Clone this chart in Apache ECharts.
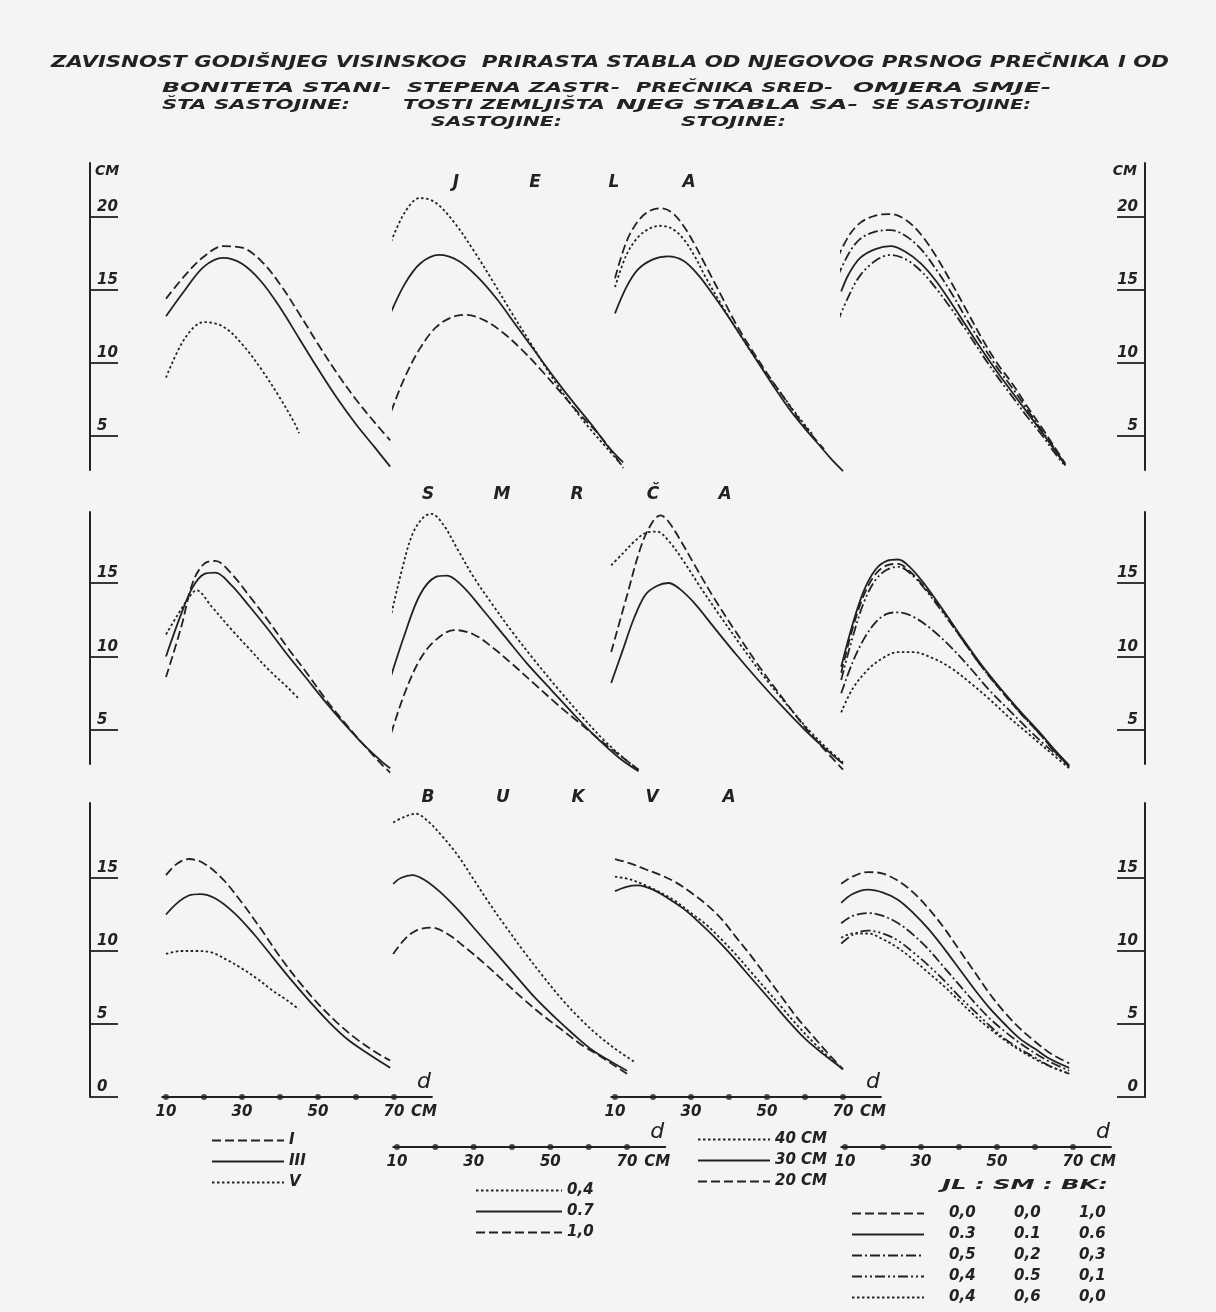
<!DOCTYPE html>
<html>
<head>
<meta charset="utf-8">
<script src="https://cdn.jsdelivr.net/npm/echarts@6/dist/echarts.min.js"></script>
<style>
  html, body { margin: 0; padding: 0; background: #f4f4f2; }
  #chart { width: 1216px; height: 1312px; }
</style>
</head>
<body>
<div id="chart"></div>
<script>
// ---- values: [d (cm), yearly height increment (cm)] ----
const dTicks = [10, 20, 30, 40, 50, 60, 70];
const dLabels = [10, 30, 50, 70];
const jelaTicks = [5, 10, 15, 20];
const smrcaTicks = [5, 10, 15];
const bukvaTicks = [0, 5, 10, 15];

// JELA
const jelaI = [[10,14.4],[15,16.0],[20,17.3],[25,18.0],[30,17.9],[35,17.0],[40,15.4],[45,13.4],[50,11.3],[55,9.3],[60,7.5],[65,5.9],[69,4.7]];
const jelaIII = [[10,13.2],[15,15.0],[20,16.6],[25,17.2],[30,16.8],[35,15.6],[40,13.8],[45,11.7],[50,9.6],[55,7.6],[60,5.8],[65,4.2],[69,2.9]];
const jelaV = [[10,9.0],[15,11.7],[20,12.8],[25,12.5],[30,11.3],[35,9.6],[40,7.6],[44,5.8],[45,5.2]];
const jelaZ04 = [[8,18.0],[12,20.3],[16,21.3],[20,21.0],[25,19.6],[30,17.7],[35,15.6],[40,13.4],[45,11.3],[50,9.2],[55,7.3],[60,5.6],[65,4.1],[69,2.9]];
const jelaZ07 = [[8,13.2],[12,15.4],[16,16.8],[21,17.4],[26,17.0],[31,15.9],[36,14.4],[41,12.6],[46,10.8],[51,9.0],[56,7.3],[61,5.7],[65,4.3],[69,3.2]];
const jelaZ10 = [[8.5,6.7],[12,9.0],[16,11.0],[20,12.4],[24,13.1],[28,13.3],[33,12.9],[38,12.0],[43,10.8],[48,9.4],[53,7.9],[58,6.4],[63,5.0],[67,3.6],[69,2.8]];
const jelaP40 = [[10,15.2],[13,17.4],[16,18.6],[19,19.2],[22,19.4],[25,19.2],[28,18.5],[31,17.3],[34,15.8],[38,14.0],[42,12.3],[46,10.7],[50,9.2],[54,7.8],[58,6.4],[62,5.1]];
const jelaP30 = [[10,13.4],[13,15.2],[16,16.4],[20,17.1],[24,17.3],[28,17.0],[32,16.0],[36,14.6],[40,13.1],[44,11.5],[48,9.9],[52,8.3],[56,6.8],[60,5.5],[64,4.3],[67,3.4],[70,2.6]];
const jelaP20 = [[10,15.8],[13,18.3],[16,19.7],[19,20.4],[22,20.6],[25,20.3],[28,19.4],[31,18.1],[34,16.6],[38,14.6],[42,12.6],[46,10.9],[50,9.3],[54,7.8],[58,6.3],[62,5.0],[65,4.1]];
const jelaO1 = [[8,17.2],[11,18.7],[14,19.6],[18,20.1],[22,20.2],[26,19.8],[30,18.8],[34,17.3],[38,15.5],[42,13.6],[46,11.7],[50,10.0],[54,8.6],[58,7.0],[62,5.5],[65,4.3],[68,3.1]];
const jelaO2 = [[9,14.9],[11,16.1],[14,17.2],[18,17.8],[22,18.0],[26,17.6],[30,16.8],[34,15.6],[38,14.1],[42,12.5],[46,10.9],[50,9.4],[54,8.0],[58,6.6],[62,5.2],[65,4.1],[68,3.0]];
const jelaO3 = [[8,15.9],[11,17.5],[14,18.5],[18,19.0],[22,19.1],[26,18.7],[30,17.8],[34,16.4],[38,14.8],[42,13.0],[46,11.3],[50,9.7],[54,8.3],[58,6.8],[62,5.3],[65,4.2],[68,3.0]];
const jelaO4 = [[8,12.8],[11,14.6],[14,16.0],[18,17.0],[22,17.4],[26,17.1],[30,16.3],[34,15.1],[38,13.7],[42,12.2],[46,10.6],[50,9.1],[54,7.7],[58,6.3],[62,5.0],[65,3.9],[68,2.9]];

// SMRČA
const smrcaI = [[10,8.6],[14,12.0],[17,15.0],[20,16.3],[23,16.5],[27,15.7],[32,14.1],[37,12.4],[42,10.6],[47,8.9],[52,7.1],[57,5.5],[62,4.0],[67,2.6],[69,2.1]];
const smrcaIII = [[10,10.0],[14,12.9],[17,14.7],[20,15.6],[23,15.7],[27,14.9],[32,13.4],[37,11.8],[42,10.1],[47,8.5],[52,6.9],[57,5.4],[62,4.0],[67,2.8],[69,2.4]];
const smrcaV = [[10,11.5],[13,12.8],[16,14.0],[18,14.5],[22,13.4],[27,11.9],[32,10.5],[37,9.1],[42,7.9],[45,7.1]];
const smrcaZ04 = [[8,12.3],[11,15.6],[14,18.3],[17,19.5],[19,19.7],[22,19.0],[26,17.2],[30,15.4],[35,13.5],[40,11.7],[46,9.7],[52,7.8],[58,6.0],[64,4.3],[70,2.9],[73,2.3]];
const smrcaZ07 = [[8,8.3],[12,11.5],[16,14.2],[20,15.4],[23,15.5],[27,14.8],[32,13.3],[38,11.4],[44,9.5],[50,7.8],[56,6.1],[62,4.5],[68,3.1],[73,2.2]];
const smrcaZ10 = [[8.5,4.8],[12,7.5],[16,9.8],[20,11.1],[25,11.8],[30,11.5],[35,10.6],[40,9.5],[46,8.1],[52,6.7],[58,5.4],[64,4.1],[70,2.9],[73,2.3]];
const smrcaP40 = [[9,16.2],[12,17.0],[15,17.8],[18,18.4],[21,18.5],[24,17.9],[28,16.5],[32,14.9],[37,13.0],[43,10.8],[49,8.7],[55,6.8],[61,5.0],[66,3.7],[70,2.8]];
const smrcaP30 = [[9,8.2],[12,10.4],[15,12.6],[18,14.2],[21,14.8],[24,15.0],[27,14.6],[31,13.6],[36,12.0],[42,10.1],[48,8.3],[54,6.6],[60,5.0],[65,3.8],[70,2.7]];
const smrcaP20 = [[9,10.3],[13,14.0],[17,17.6],[20,19.2],[22,19.6],[24,19.2],[27,18.0],[31,16.2],[36,14.0],[42,11.6],[48,9.3],[54,7.2],[60,5.2],[65,3.7],[70,2.3]];
const smrcaO1 = [[9,8.9],[12,11.9],[15,14.2],[18,15.6],[21,16.2],[24,16.3],[27,15.8],[31,14.7],[36,13.0],[41,11.1],[46,9.3],[51,7.7],[56,6.2],[61,4.8],[65,3.6],[69,2.5]];
const smrcaO2 = [[9,9.3],[12,12.2],[15,14.5],[18,15.9],[21,16.5],[24,16.6],[27,16.1],[31,14.9],[36,13.1],[41,11.2],[46,9.4],[51,7.8],[56,6.3],[61,4.9],[65,3.7],[69,2.6]];
const smrcaO3 = [[9,7.5],[12,9.6],[15,11.2],[18,12.3],[21,12.9],[24,13.0],[28,12.7],[33,11.8],[38,10.6],[43,9.2],[48,7.7],[53,6.4],[58,5.1],[63,3.9],[69,2.6]];
const smrcaO4 = [[9,8.4],[12,11.3],[15,13.7],[18,15.2],[21,15.9],[24,16.1],[27,15.7],[31,14.6],[36,12.9],[41,11.1],[46,9.3],[51,7.7],[56,6.2],[61,4.8],[65,3.6],[69,2.5]];
const smrcaO5 = [[9,6.2],[12,7.8],[16,9.1],[20,9.9],[24,10.3],[28,10.3],[33,9.9],[38,9.2],[43,8.2],[48,7.1],[53,5.9],[58,4.8],[63,3.7],[69,2.4]];

// BUKVA
const bukvaI = [[10,15.2],[13,16.0],[16,16.3],[20,16.0],[25,14.9],[30,13.3],[35,11.5],[40,9.6],[45,7.9],[50,6.4],[55,5.1],[60,4.0],[65,3.1],[69,2.5]];
const bukvaIII = [[10,12.5],[13,13.3],[16,13.8],[19,13.9],[23,13.6],[28,12.6],[33,11.2],[38,9.6],[43,8.0],[48,6.5],[53,5.1],[58,3.9],[63,3.0],[69,2.0]];
const bukvaV = [[10,9.8],[14,10.0],[18,10.0],[22,9.9],[26,9.4],[30,8.8],[34,8.1],[38,7.3],[42,6.6],[45,6.0]];
const bukvaZ04 = [[9,18.8],[12,19.2],[15,19.4],[18,18.9],[22,17.8],[26,16.5],[30,14.9],[34,13.3],[38,11.8],[43,10.0],[48,8.3],[53,6.7],[58,5.3],[63,4.1],[68,3.1],[72,2.4]];
const bukvaZ07 = [[9,14.6],[11,15.0],[14,15.2],[17,14.9],[21,14.1],[26,12.8],[31,11.3],[36,9.8],[41,8.3],[46,6.8],[51,5.5],[56,4.3],[61,3.2],[66,2.4],[70,1.8]];
const bukvaZ10 = [[9,9.8],[12,10.8],[15,11.4],[19,11.6],[23,11.2],[28,10.2],[33,9.1],[38,7.9],[43,6.7],[48,5.6],[53,4.6],[58,3.6],[63,2.8],[67,2.1],[70,1.6]];
const bukvaP40 = [[10,15.1],[14,14.9],[18,14.5],[22,14.0],[26,13.4],[30,12.6],[34,11.8],[38,10.8],[42,9.7],[46,8.5],[50,7.3],[54,6.1],[58,4.9],[62,3.8],[66,2.8],[70,1.9]];
const bukvaP30 = [[10,14.1],[13,14.4],[16,14.5],[20,14.2],[24,13.6],[28,12.9],[32,12.0],[36,11.0],[40,9.9],[44,8.7],[48,7.5],[52,6.3],[56,5.1],[60,4.0],[65,2.9],[70,1.9]];
const bukvaP20 = [[10,16.3],[14,16.0],[18,15.6],[22,15.2],[26,14.7],[30,14.0],[34,13.2],[38,12.2],[42,10.9],[46,9.6],[50,8.2],[54,6.8],[58,5.4],[62,4.2],[66,3.0],[70,1.9]];
const bukvaO1 = [[9,14.6],[12,15.1],[16,15.4],[20,15.3],[24,14.8],[28,14.0],[32,12.9],[36,11.6],[40,10.1],[44,8.6],[48,7.1],[52,5.8],[56,4.7],[60,3.8],[64,3.0],[69,2.3]];
const bukvaO2 = [[9,13.3],[12,13.9],[16,14.2],[20,14.0],[24,13.5],[28,12.6],[32,11.5],[36,10.2],[40,8.8],[44,7.4],[48,6.1],[52,5.0],[56,4.0],[60,3.3],[64,2.6],[69,2.0]];
const bukvaO3 = [[9,11.9],[12,12.4],[16,12.6],[20,12.4],[24,11.9],[28,11.1],[32,10.1],[36,8.9],[40,7.7],[44,6.5],[48,5.4],[52,4.5],[56,3.7],[60,3.0],[64,2.4],[69,1.8]];
const bukvaO4 = [[9,10.5],[12,11.1],[16,11.4],[20,11.2],[24,10.7],[28,9.9],[32,9.0],[36,8.0],[40,6.9],[44,5.9],[48,4.9],[52,4.0],[56,3.3],[60,2.7],[64,2.1],[69,1.6]];
const bukvaO5 = [[9,10.9],[12,11.2],[16,11.2],[20,10.8],[24,10.2],[28,9.4],[32,8.5],[36,7.6],[40,6.6],[44,5.6],[48,4.7],[52,3.9],[56,3.2],[60,2.6],[64,2.1],[69,1.6]];

// legend names
const bonitetNames = ['I', 'III', 'V'];
const zastrtostNames = ['0,4', '0.7', '1,0'];
const precnikNames = ['40 CM', '30 CM', '20 CM'];
const omjerNames = ['0,0|0,0|1,0', '0.3|0.1|0.6', '0,5|0,2|0,3', '0,4|0.5|0,1', '0,4|0,6|0,0'];

// ---- layout ----
const INK = '#222222';
const FONT = '"DejaVu Sans", "Liberation Sans", sans-serif';
const AX_L = 90, AX_R = 1145;
const rows = [
  { top: 163, bottom: 470, zero: 509, ppu: 14.6, ticks: jelaTicks, name: 'CM' },
  { top: 512, bottom: 764, zero: 803.5, ppu: 14.7, ticks: smrcaTicks, name: '' },
  { top: 803, bottom: 1097, zero: 1097, ppu: 14.6, ticks: bukvaTicks, name: '' }
];
const panels = [
  { x10: 166, x70: 394, axisY: 1097 },
  { x10: 397, x70: 627, axisY: 1147 },
  { x10: 615, x70: 843, axisY: 1097 },
  { x10: 845, x70: 1073, axisY: 1147 }
];
const X_MIN = 9, X_MAX = 80;

const DASH = [9, 4], DOT = [2.5, 2.5], DASHDOT = [10, 3, 2, 3], DASHDOT2 = [10, 3, 2, 3, 2, 3];
const styleOf = {
  'I': DASH, 'III': 'solid', 'V': DOT,
  '0,4': DOT, '0.7': 'solid', '1,0': DASH,
  '40 CM': DOT, '30 CM': 'solid', '20 CM': DASH,
  '0,0|0,0|1,0': DASH, '0.3|0.1|0.6': 'solid', '0,5|0,2|0,3': DASHDOT,
  '0,4|0.5|0,1': DASHDOT2, '0,4|0,6|0,0': DOT
};

// curves per row, per panel
const curves = [
  [
    [['I', jelaI], ['III', jelaIII], ['V', jelaV]],
    [['0,4', jelaZ04], ['0.7', jelaZ07], ['1,0', jelaZ10]],
    [['40 CM', jelaP40], ['30 CM', jelaP30], ['20 CM', jelaP20]],
    [[omjerNames[0], jelaO1], [omjerNames[1], jelaO2], [omjerNames[2], jelaO3], [omjerNames[3], jelaO4]]
  ],
  [
    [['I', smrcaI], ['III', smrcaIII], ['V', smrcaV]],
    [['0,4', smrcaZ04], ['0.7', smrcaZ07], ['1,0', smrcaZ10]],
    [['40 CM', smrcaP40], ['30 CM', smrcaP30], ['20 CM', smrcaP20]],
    [[omjerNames[0], smrcaO1], [omjerNames[1], smrcaO2], [omjerNames[2], smrcaO3], [omjerNames[3], smrcaO4], [omjerNames[4], smrcaO5]]
  ],
  [
    [['I', bukvaI], ['III', bukvaIII], ['V', bukvaV]],
    [['0,4', bukvaZ04], ['0.7', bukvaZ07], ['1,0', bukvaZ10]],
    [['40 CM', bukvaP40], ['30 CM', bukvaP30], ['20 CM', bukvaP20]],
    [[omjerNames[0], bukvaO1], [omjerNames[1], bukvaO2], [omjerNames[2], bukvaO3], [omjerNames[3], bukvaO4], [omjerNames[4], bukvaO5]]
  ]
];

var myChart = echarts.init(document.getElementById('chart'));

var grid = [], xAxis = [], yAxis = [], series = [];

function panelBox(p) {
  var ppx = (p.x70 - p.x10) / 60;
  return { left: p.x10 - (10 - X_MIN) * ppx, width: (X_MAX - X_MIN) * ppx };
}
function rowRange(r) {
  return { min: (r.zero - r.bottom) / r.ppu, max: (r.zero - r.top) / r.ppu };
}

// curve panels: grids 0..11
rows.forEach(function (r, ri) {
  var rng = rowRange(r);
  panels.forEach(function (p, pi) {
    var box = panelBox(p);
    var gi = grid.length;
    grid.push({ left: box.left, width: box.width, top: r.top, height: r.bottom - r.top });
    xAxis.push({ type: 'value', gridIndex: gi, min: X_MIN, max: X_MAX, show: false });
    yAxis.push({ type: 'value', gridIndex: gi, min: rng.min, max: rng.max, show: false });
    curves[ri][pi].forEach(function (c) {
      series.push({
        type: 'line',
        name: c[0],
        xAxisIndex: gi,
        yAxisIndex: gi,
        data: c[1],
        smooth: 0.35,
        symbol: 'none',
        showSymbol: false,
        clip: false,
        silent: true,
        itemStyle: { color: INK },
        lineStyle: { color: INK, width: 1.8, type: styleOf[c[0]] }
      });
    });
  });
});

// row frames with left and right vertical axes: grids 12..14
var labelStyle = { color: INK, fontFamily: FONT, fontStyle: 'italic', fontWeight: 'bold', fontSize: 15 };
rows.forEach(function (r) {
  var rng = rowRange(r);
  var gi = grid.length;
  grid.push({ left: AX_L, right: 1216 - AX_R, top: r.top, height: r.bottom - r.top });
  xAxis.push({ type: 'value', gridIndex: gi, min: 0, max: 1, show: false });
  ['left', 'right'].forEach(function (side) {
    yAxis.push({
      type: 'value', gridIndex: gi, position: side,
      min: rng.min, max: rng.max,
      name: r.name,
      nameLocation: 'end',
      nameGap: -8,
      nameTextStyle: Object.assign({}, labelStyle, {
        fontSize: 14, verticalAlign: 'middle',
        align: side === 'left' ? 'left' : 'right',
        padding: side === 'left' ? [0, 0, 0, 5] : [0, 8, 0, 0]
      }),
      axisLine: { show: true, lineStyle: { color: INK, width: 2 } },
      axisTick: { show: true, inside: true, length: 28, customValues: r.ticks, lineStyle: { color: INK, width: 1.8 } },
      axisLabel: Object.assign({}, labelStyle, {
        inside: true, margin: 7, customValues: r.ticks,
        verticalAlign: 'bottom', padding: [0, 0, 2, 0],
        showMinLabel: true, showMaxLabel: true
      }),
      splitLine: { show: false }
    });
  });
});

// bottom diameter axes: grids 15..18
panels.forEach(function (p) {
  var box = panelBox(p);
  var gi = grid.length;
  grid.push({ left: box.left, width: box.width, top: p.axisY - 30, height: 30 });
  xAxis.push({
    type: 'value', gridIndex: gi, min: X_MIN, max: X_MAX, position: 'bottom',
    name: '{d|d}\n{cm|CM}',
    nameLocation: 'end',
    nameGap: -8,
    nameTextStyle: {
      align: 'center', verticalAlign: 'middle',
      rich: {
        d: { fontFamily: FONT, fontStyle: 'italic', fontSize: 22, color: INK, lineHeight: 30 },
        cm: { fontFamily: FONT, fontStyle: 'italic', fontWeight: 'bold', fontSize: 15, color: INK, lineHeight: 30 }
      }
    },
    axisLine: { show: true, onZero: false, lineStyle: { color: INK, width: 1.8 } },
    axisTick: { show: false },
    axisLabel: Object.assign({}, labelStyle, { customValues: dLabels, margin: 8 }),
    splitLine: { show: false }
  });
  var yi = yAxis.length;
  yAxis.push({ type: 'value', gridIndex: gi, min: 0, max: 1, show: false });
  series.push({
    type: 'scatter',
    xAxisIndex: xAxis.length - 1,
    yAxisIndex: yi,
    data: dTicks.map(function (v) { return [v, 0]; }),
    symbol: 'circle',
    symbolSize: 6,
    silent: true,
    itemStyle: { color: INK },
    z: 5
  });
});

// free text
var meas = document.createElement('canvas').getContext('2d');
function fitText(str, x0, x1, y, size) {
  var font = 'italic bold ' + size + 'px ' + FONT;
  meas.font = font;
  var w = meas.measureText(str).width;
  return {
    type: 'text', x: x0, y: y, scaleX: (x1 - x0) / w, silent: true,
    style: { text: str, font: font, fill: INK, textAlign: 'left', textVerticalAlign: 'middle', align: 'left', verticalAlign: 'middle' }
  };
}
function letters(word, xs, y) {
  return word.split('').map(function (ch, i) {
    return {
      type: 'text', x: xs[i], y: y, silent: true,
      style: { text: ch, font: 'italic bold 17px ' + FONT, fill: INK, textAlign: 'center', textVerticalAlign: 'middle', align: 'center', verticalAlign: 'middle' }
    };
  });
}

var graphic = [
  fitText('ZAVISNOST GODIŠNJEG VISINSKOG  PRIRASTA STABLA OD NJEGOVOG PRSNOG PREČNIKA I OD', 51, 1169, 63, 15),
  fitText('BONITETA STANI-', 162, 391, 88, 14),
  fitText('STEPENA ZASTR-', 407, 620, 88, 14),
  fitText('PREČNIKA SRED-', 636, 833, 88, 14),
  fitText('OMJERA SMJE-', 853, 1051, 88, 14),
  fitText('ŠTA SASTOJINE:', 162, 350, 105, 14),
  fitText('TOSTI ZEMLJIŠTA', 403, 605, 105, 14),
  fitText('NJEG STABLA SA-', 616, 858, 105, 14),
  fitText('SE SASTOJINE:', 872, 1031, 105, 14),
  fitText('SASTOJINE:', 431, 562, 122, 14),
  fitText('STOJINE:', 681, 786, 122, 14),
  fitText('JL : SM : BK:', 942, 1108, 1185, 14)
]
  .concat(letters('JELA', [456, 535, 614, 689], 183))
  .concat(letters('SMRČA', [428, 502, 577, 653, 725], 495))
  .concat(letters('BUKVA', [428, 503, 578, 652, 729], 798));

var legendText = { color: INK, fontFamily: FONT, fontStyle: 'italic', fontWeight: 'bold', fontSize: 15 };
function legendBox(names, left, top, extra) {
  return Object.assign({
    data: names, orient: 'vertical', left: left, top: top,
    itemWidth: 72, itemHeight: 14, itemGap: 6, selectedMode: false,
    itemStyle: { opacity: 0 },
    textStyle: legendText
  }, extra || {});
}

let option = {
  backgroundColor: '#f4f4f2',
  animation: false,
  graphic: graphic,
  legend: [
    legendBox(bonitetNames, 206, 1128),
    legendBox(zastrtostNames, 470, 1178, { itemWidth: 86 }),
    legendBox(precnikNames, 692, 1127),
    legendBox(omjerNames, 846, 1201, {
      formatter: function (name) {
        var parts = name.split('|');
        return '{a|' + parts[0] + '}{b|' + parts[1] + '}{c|' + parts[2] + '}';
      },
      textStyle: Object.assign({}, legendText, {
        rich: {
          a: Object.assign({}, legendText, { width: 65, padding: [0, 0, 0, 20] }),
          b: Object.assign({}, legendText, { width: 65 }),
          c: Object.assign({}, legendText, { width: 40 })
        }
      })
    })
  ],
  grid: grid,
  xAxis: xAxis,
  yAxis: yAxis,
  series: series
};

myChart.setOption(option);
</script>
</body>
</html>
